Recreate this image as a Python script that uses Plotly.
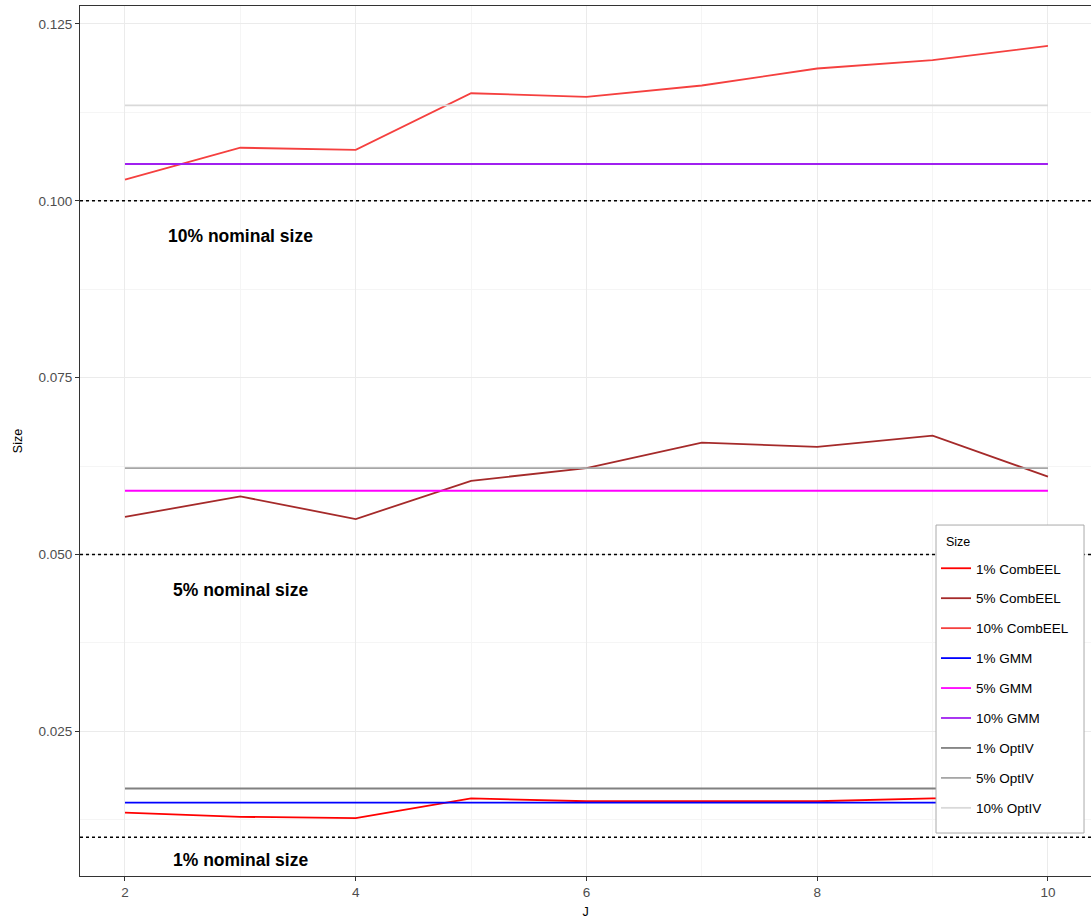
import plotly.graph_objects as go

J = [2, 3, 4, 5, 6, 7, 8, 9, 10]

comb_1 = [0.0135, 0.0129, 0.0127, 0.0155, 0.0151, 0.0151, 0.0151, 0.0155, 0.0156]
comb_5 = [0.0553, 0.0582, 0.0550, 0.0604, 0.0622, 0.0658, 0.0652, 0.0668, 0.0610]
comb_10 = [0.1030, 0.1075, 0.1072, 0.1152, 0.1147, 0.1163, 0.1187, 0.1199, 0.1219]
gmm_1 = [0.0149] * 9
gmm_5 = [0.0590] * 9
gmm_10 = [0.1052] * 9
opt_1 = [0.0169] * 9
opt_5 = [0.0622] * 9
opt_10 = [0.1135] * 9

names = ["1% CombEEL", "5% CombEEL", "10% CombEEL", "1% GMM", "5% GMM", "10% GMM",
         "1% OptIV", "5% OptIV", "10% OptIV"]
series = [comb_1, comb_5, comb_10, gmm_1, gmm_5, gmm_10, opt_1, opt_5, opt_10]
colors = ["#ff0000", "#a52a2a", "#f5403f", "#0000ff", "#ff00ff", "#a020f0",
          "#808080", "#a6a6a6", "#d9d9d9"]

nominal = [0.10, 0.05, 0.01]
label_text = ["10% nominal size", "5% nominal size", "1% nominal size"]
label_x = [3.0, 3.0, 3.0]
label_y = [0.095, 0.045, 0.0068]

fig = go.Figure()
for i, (n, s, c) in enumerate(zip(names, series, colors)):
    fig.add_trace(go.Scatter(x=J, y=s, mode="lines", name=n, legendgroup=str(i),
                             line=dict(color=c, width=1.8)))

for v in nominal:
    fig.add_hline(y=v, line=dict(color="black", width=1.5, dash="dot"), layer="above")

for t, x, y in zip(label_text, label_x, label_y):
    fig.add_annotation(x=x, y=y, text="<b>" + t + "</b>", showarrow=False,
                       font=dict(family="Liberation Sans, Arial", size=17.5, color="black"))

# legend frame (drawn behind the legend, above the data) and legend title
fig.add_shape(type="rect", xref="paper", yref="paper",
              x0=0.8467, x1=0.9931, y0=0.0494, y1=0.4034,
              fillcolor="white", line=dict(color="#aaaaaa", width=1), layer="above")
fig.add_annotation(xref="paper", yref="paper", x=0.8545, y=0.3843, text="Size",
                   xanchor="left", yanchor="middle", showarrow=False,
                   font=dict(family="Liberation Sans, Arial", size=12.5, color="black"))

fig.update_layout(
    width=1091, height=919,
    margin=dict(l=80, r=0, t=6, b=43),
    plot_bgcolor="white", paper_bgcolor="white",
    font=dict(family="Liberation Sans, Arial", size=13.5, color="#4d4d4d"),
    legend=dict(
        x=0.8467, y=0.3713, xanchor="left", yanchor="top",
        bgcolor="rgba(0,0,0,0)", borderwidth=0,
        font=dict(size=13.5, color="black"), tracegroupgap=9.4,
    ),
    xaxis=dict(
        title=dict(text="J", font=dict(size=12.5, color="black"), standoff=10),
        range=[1.61, 10.373], tick0=2, dtick=2, showgrid=True, gridcolor="#ebebeb",
        minor=dict(dtick=1, tick0=2, showgrid=True, gridcolor="#f5f5f5", ticks=""),
        ticks="outside", ticklen=4, tickcolor="#333333",
        showline=True, linecolor="#333333", linewidth=1, mirror=True, zeroline=False,
    ),
    yaxis=dict(
        title=dict(text="Size", font=dict(size=12.5, color="black"), standoff=13),
        range=[0.00453, 0.12754], tick0=0, dtick=0.025, tickformat=".3f",
        showgrid=True, gridcolor="#ebebeb",
        minor=dict(dtick=0.0125, showgrid=True, gridcolor="#f5f5f5", ticks=""),
        ticks="outside", ticklen=4, tickcolor="#333333",
        showline=True, linecolor="#333333", linewidth=1, zeroline=False,
    ),
)

fig.write_html("out.html", config={"displayModeBar": False},
               post_script="document.body.style.margin='0';document.body.style.overflow='hidden';")
